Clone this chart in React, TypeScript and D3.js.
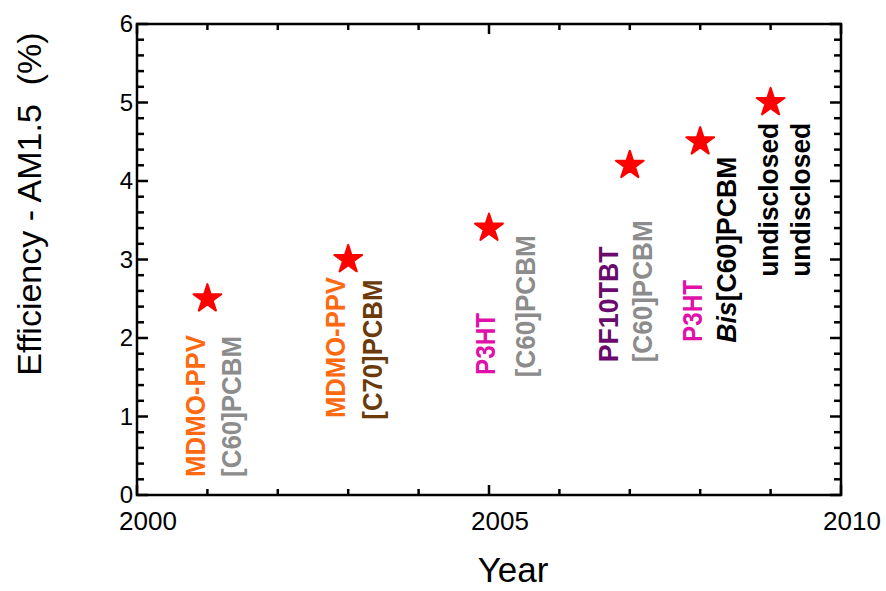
import React from "react";
import * as d3 from "d3";

// ---- data ----
const years = [2001, 2003, 2005, 2007, 2008, 2009];
const efficiency = [2.5, 3.0, 3.4, 4.2, 4.5, 5.0];

const xTicksMajor = [2000, 2005, 2010];
const yTicksMajor = [0, 1, 2, 3, 4, 5, 6];

// annotation labels (text, anchor year, anchor efficiency in data units)
const labelTexts = [
  "MDMO-PPV", "[C60]PCBM",
  "MDMO-PPV", "[C70]PCBM",
  "P3HT", "[C60]PCBM",
  "PF10TBT", "[C60]PCBM",
  "P3HT", "Bis[C60]PCBM",
  "undisclosed", "undisclosed",
];
const labelYears = [2000.97, 2001.48, 2002.95, 2003.48, 2005.09, 2005.65, 2006.83, 2007.32, 2008.03, 2008.51, 2009.1, 2009.56];
const labelValues = [0.23, 0.23, 0.98, 0.96, 1.53, 1.5, 1.69, 1.69, 1.95, 1.94, 2.78, 2.78];

// ---- styles ----
const labelColors = [
  "#FF6A10", "#8C8C8C",
  "#FF6A10", "#6B3A0A",
  "#E010A8", "#8C8C8C",
  "#6A0A6E", "#8C8C8C",
  "#E010A8", "#000000",
  "#000000", "#000000",
];
const labelLengths = [142, 141, 141, 140, 62, 142, 116, 142, 62, 186, 154, 154];
const FONT = "'Liberation Sans', Arial, Helvetica, sans-serif";

export default function App() {
  const W = 886, H = 591;
  const m = { left: 137, right: 841, top: 24, bottom: 495 };
  const x = d3.scaleLinear().domain([2000, 2010]).range([m.left, m.right]);
  const y = d3.scaleLinear().domain([0, 6]).range([m.bottom, m.top]);

  const xMinor = d3.range(2000, 2010.01, 1).filter((v) => !xTicksMajor.includes(v));
  const yMinor = d3.range(0, 6.001, 0.2).map((v) => +v.toFixed(1)).filter((v) => !yTicksMajor.includes(v));

  const star = d3.symbol().type(d3.symbolStar).size(240)();
  const sw = 2.5;

  return (
    <svg
      width={W}
      height={H}
      style={{ position: "absolute", left: 0, top: 0, background: "#fff" }}
      fontFamily={FONT}
    >
      {/* frame */}
      <rect
        x={m.left}
        y={m.top}
        width={m.right - m.left}
        height={m.bottom - m.top}
        fill="none"
        stroke="#000"
        strokeWidth={sw}
      />
      {/* x ticks bottom & top */}
      {xTicksMajor.map((v) => (
        <g key={"xM" + v}>
          <line x1={x(v)} x2={x(v)} y1={m.bottom} y2={m.bottom - 10} stroke="#000" strokeWidth={sw} />
          <line x1={x(v)} x2={x(v)} y1={m.top} y2={m.top + 10} stroke="#000" strokeWidth={sw} />
          <text x={x(v) + 11} y={530} fontSize={26} textAnchor="middle" fill="#000">
            {v}
          </text>
        </g>
      ))}
      {xMinor.map((v) => (
        <g key={"xm" + v}>
          <line x1={x(v)} x2={x(v)} y1={m.bottom} y2={m.bottom - 6} stroke="#000" strokeWidth={sw} />
          <line x1={x(v)} x2={x(v)} y1={m.top} y2={m.top + 6} stroke="#000" strokeWidth={sw} />
        </g>
      ))}
      {/* y ticks left & right */}
      {yTicksMajor.map((v) => (
        <g key={"yM" + v}>
          <line x1={m.left} x2={m.left + 11} y1={y(v)} y2={y(v)} stroke="#000" strokeWidth={sw} />
          <line x1={m.right} x2={m.right - 11} y1={y(v)} y2={y(v)} stroke="#000" strokeWidth={sw} />
          <text x={m.left - 4} y={y(v)} dy="0.34em" fontSize={24} textAnchor="end" fill="#000">
            {v}
          </text>
        </g>
      ))}
      {yMinor.map((v) => (
        <g key={"ym" + v}>
          <line x1={m.left} x2={m.left + 7} y1={y(v)} y2={y(v)} stroke="#000" strokeWidth={sw} />
          <line x1={m.right} x2={m.right - 7} y1={y(v)} y2={y(v)} stroke="#000" strokeWidth={sw} />
        </g>
      ))}

      {/* axis titles */}
      <text x={513} y={582} fontSize={35} textAnchor="middle" fill="#000">
        Year
      </text>
      <text
        transform={`translate(41,204) rotate(-90)`}
        fontSize={34}
        textAnchor="middle"
        fill="#000"
        style={{ whiteSpace: "pre" }}
      >
        {"Efficiency - AM1.5  (%)"}
      </text>

      {/* annotation labels */}
      {labelTexts.map((t, i) => {
        const isBis = t.startsWith("Bis");
        return (
          <text
            key={"l" + i}
            transform={`translate(${x(labelYears[i])},${y(labelValues[i])}) rotate(-90)`}
            fontSize={27}
            fontWeight="bold"
            fill={labelColors[i]}
            textLength={labelLengths[i]}
            lengthAdjust="spacingAndGlyphs"
          >
            {isBis ? (
              <>
                <tspan fontStyle="italic">Bis</tspan>
                <tspan>{t.slice(3)}</tspan>
              </>
            ) : (
              t
            )}
          </text>
        );
      })}

      {/* stars */}
      {years.map((yr, i) => (
        <path
          key={"s" + i}
          d={star}
          transform={`translate(${x(yr)},${y(efficiency[i])})`}
          fill="#FF0000"
          stroke="#FF0000"
          strokeWidth={2}
          strokeLinejoin="round"
        />
      ))}
    </svg>
  );
}
